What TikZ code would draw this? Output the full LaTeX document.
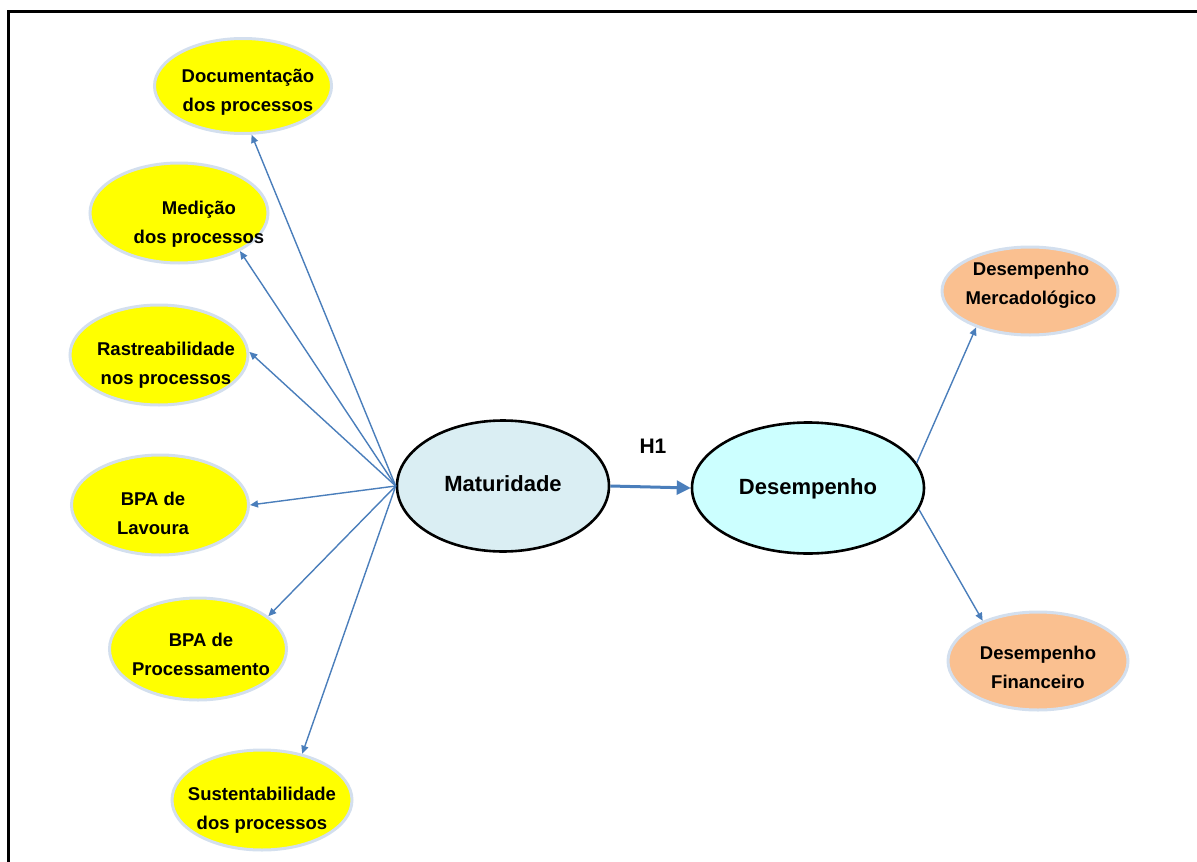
\documentclass[tikz,border=0pt]{standalone}
\usepackage{fontspec}
\setmainfont{Liberation Sans}
\usetikzlibrary{shapes.geometric,arrows.meta}
\definecolor{linkblue}{HTML}{4A7EBB}
\definecolor{rimblue}{HTML}{D3DFEE}
\definecolor{ballyellow}{HTML}{FFFF00}
\definecolor{matfill}{HTML}{DAEEF3}
\definecolor{desfill}{HTML}{CCFFFF}
\definecolor{peach}{HTML}{FAC090}
\tikzset{
  ball/.style={ellipse, draw=rimblue, line width=3pt, inner sep=0pt},
  dimball/.style={ball, fill=ballyellow},
  perfball/.style={ball, fill=peach},
  core/.style={ellipse, draw=black, line width=2.6pt, inner sep=0pt},
  lbl/.style={align=center, font=\fontsize{18.5}{29}\selectfont\bfseries, inner sep=0pt},
  biglbl/.style={align=center, font=\fontsize{22}{26}\selectfont\bfseries, inner sep=0pt},
  link/.style={draw=linkblue, line width=1.4pt, -{Triangle[length=8pt,width=7pt]}},
  mainlink/.style={draw=linkblue, line width=3pt, -{Triangle[length=14pt,width=14pt]}}
}
\begin{document}
\begin{tikzpicture}[x=1pt,y=-1pt]
\useasboundingbox (0,0) rectangle (1197,862);

% outer frame (top and left edges visible)
\draw[line width=3pt] (8,900) -- (8,11) -- (1220,11);

% dimension constructs
\node[dimball, minimum width=177pt, minimum height=95pt] (doc) at (243,86) {};
\node[lbl] (doc-t) at (248,92) {Documentação\\dos processos};
\node[dimball, minimum width=178pt, minimum height=100pt] (med) at (179,213) {};
\node[lbl] (med-t) at (199,224) {Medição\\dos processos};
\node[dimball, minimum width=178pt, minimum height=100pt] (ras) at (159,355) {};
\node[lbl] (ras-t) at (166,365) {Rastreabilidade\\nos processos};
\node[dimball, minimum width=177pt, minimum height=100pt] (lav) at (160,505) {};
\node[lbl] (lav-t) at (153,513) {BPA de\\Lavoura};
\node[dimball, minimum width=177pt, minimum height=102pt] (proc) at (198,649) {};
\node[lbl] (proc-t) at (201,654) {BPA de\\Processamento};
\node[dimball, minimum width=180pt, minimum height=100pt] (sus) at (262,800) {};
\node[lbl] (sus-t) at (262,810) {Sustentabilidade\\dos processos};

% central constructs
\node[core, fill=matfill, minimum width=212pt, minimum height=131pt] (mat) at (503,486) {};
\node[biglbl] (mat-t) at (503,484) {Maturidade};
\node[core, fill=desfill, minimum width=232pt, minimum height=131pt] (des) at (808,488) {};
\node[biglbl] (des-t) at (808,489) {Desempenho};
\node[biglbl, font=\fontsize{21}{24}\selectfont\bfseries] (h1) at (653,446) {H1};

% performance constructs
\node[perfball, minimum width=176pt, minimum height=88pt] (merc) at (1030,291) {};
\node[lbl] (merc-t) at (1031,285) {Desempenho\\Mercadológico};
\node[perfball, minimum width=180pt, minimum height=98pt] (fin) at (1038,661) {};
\node[lbl] (fin-t) at (1038,667) {Desempenho\\Financeiro};

% relations
\draw[link] (mat.west) -- (doc.280);
\draw[link] (mat.west) -- (med.328);
\draw[link] (mat.west) -- (ras.2);
\draw[link] (mat.west) -- (lav.0);
\draw[link] (mat.west) -- (proc.25);
\draw[link] (mat.west) -- (sus.49);
\draw[mainlink] (mat.east) -- (des.west);
\draw[link] (des.13) -- (merc.214);
\draw[link] (des.-11) -- (fin.144);
\end{tikzpicture}
\end{document}
